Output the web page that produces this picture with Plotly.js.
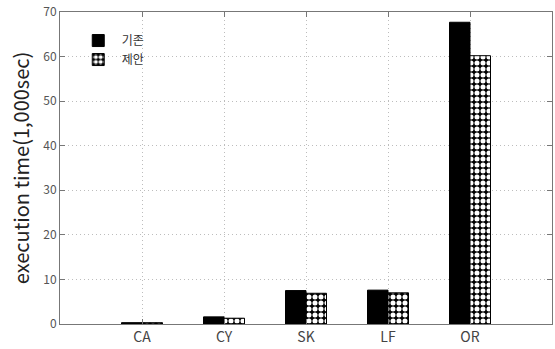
<!DOCTYPE html>
<html><head><meta charset="utf-8">
<script src="https://cdn.plot.ly/plotly-3.0.1.min.js"></script>
<style>html,body{margin:0;padding:0;background:#fff}</style>
</head><body>
<div id="chart" style="width:555px;height:349px"></div>
<script>
const categories = ["CA", "CY", "SK", "LF", "OR"];
const baseline = [0.3, 1.6, 7.5, 7.6, 67.7];
const proposed = [0.3, 1.3, 6.9, 7.0, 60.2];
const seriesNames = ["기존", "제안"];
const yTicks = [0, 10, 20, 30, 40, 50, 60, 70];

const xPos = categories.map((c, i) => i);
const font = '"Noto Sans CJK KR", "Noto Sans", sans-serif';

const traces = [
  {type: 'bar', x: xPos, y: baseline, name: seriesNames[0],
   marker: {color: '#000000', line: {color: '#000', width: 1}}},
  {type: 'bar', x: xPos, y: proposed, name: seriesNames[1],
   marker: {color: '#000000', line: {color: '#000', width: 1},
            pattern: {shape: '.', fgcolor: '#ffffff', bgcolor: '#000000', size: 6, solidity: 0.55, fillmode: 'replace'}}}
];

const layout = {
  width: 555, height: 349,
  margin: {l: 60, r: 3, t: 12, b: 25},
  paper_bgcolor: '#fff', plot_bgcolor: '#fff',
  font: {family: font, color: '#555', size: 12},
  barmode: 'group', bargap: 0.5, bargroupgap: 0,
  showlegend: true,
  legend: {x: 0.03, y: 0.955, xanchor: 'left', yanchor: 'top', bgcolor: 'rgba(0,0,0,0)',
           itemwidth: 37, font: {family: font, size: 12, color: '#333'}, tracegroupgap: 0},
  xaxis: {range: [-1, 5], tickvals: xPos, ticktext: categories,
          showgrid: true, gridcolor: '#bdbdbd', griddash: '1px,3px', gridwidth: 1,
          showline: true, linecolor: '#777', linewidth: 1, mirror: 'ticks',
          ticks: 'inside', ticklen: 5, tickcolor: '#777',
          tickfont: {family: font, size: 14, color: '#444'}, zeroline: false},
  yaxis: {range: [0, 70], tickvals: yTicks,
          showgrid: true, gridcolor: '#bdbdbd', griddash: '1px,3px', gridwidth: 1,
          showline: true, linecolor: '#777', linewidth: 1, mirror: 'ticks',
          ticks: 'inside', ticklen: 5, tickcolor: '#777',
          tickfont: {family: font, size: 12, color: '#555'}, zeroline: false,
          title: {text: 'execution time(1,000sec)', font: {family: font, size: 20, color: '#222'}, standoff: 8}}
};

Plotly.newPlot('chart', traces, layout, {displayModeBar: false, staticPlot: true});
</script>
</body></html>
